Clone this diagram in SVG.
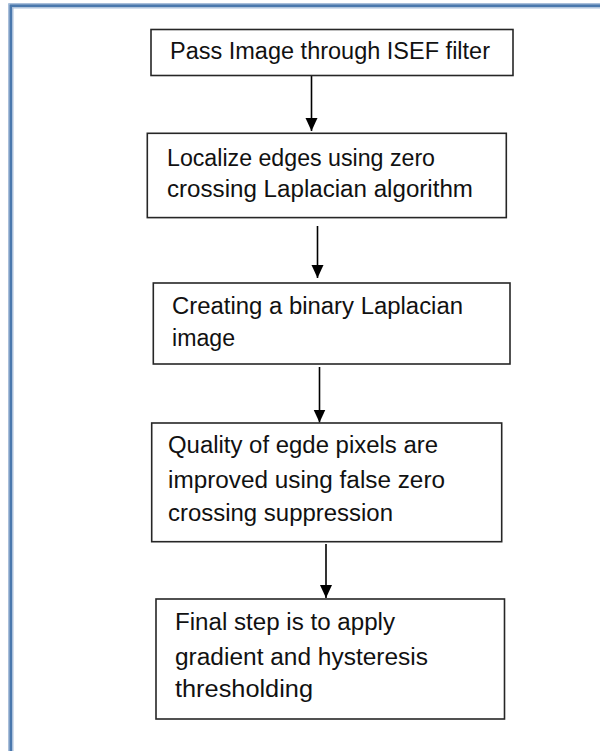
<svg xmlns="http://www.w3.org/2000/svg" width="600" height="751" viewBox="0 0 600 751">
  <style>
    .frame { fill: none; stroke: #4a78ad; stroke-width: 3; }
    .frame-edge { fill: none; stroke: #a9bfdb; stroke-width: 1; }
    .box { fill: #ffffff; stroke: #262626; stroke-width: 1.6; }
    .lbl { font-family: "Liberation Sans", Arial, sans-serif; font-size: 23px; fill: #111111; }
    .conn { fill: none; stroke: #000000; stroke-width: 1.6; }
  </style>
  <defs>
    <marker id="arrow" markerUnits="userSpaceOnUse" markerWidth="14" markerHeight="16" refX="13" refY="6" orient="auto">
      <path d="M0,0 L13,6 L0,12 Z" fill="#000000"/>
    </marker>
  </defs>
  <rect width="600" height="751" fill="#ffffff"/>
  <g id="frame">
    <path class="frame-edge" d="M8.5,751 V3.5 H600"/>
    <path class="frame-edge" d="M13,751 V8 H600"/>
    <path class="frame" d="M10.8,751 V5.8 H600"/>
  </g>
  <g id="connectors">
    <line class="conn" x1="311.5" y1="76" x2="311.5" y2="131" marker-end="url(#arrow)"/>
    <line class="conn" x1="317.5" y1="226" x2="317.5" y2="278" marker-end="url(#arrow)"/>
    <line class="conn" x1="319.5" y1="367" x2="319.5" y2="422.5" marker-end="url(#arrow)"/>
    <line class="conn" x1="326" y1="544" x2="326" y2="598" marker-end="url(#arrow)"/>
  </g>
  <g id="node1">
    <rect class="box" x="151" y="29.5" width="362" height="46"/>
    <text class="lbl" x="170" y="59" textLength="320" lengthAdjust="spacingAndGlyphs">Pass Image through ISEF filter</text>
  </g>
  <g id="node2">
    <rect class="box" x="147.3" y="133.3" width="359" height="84.3"/>
    <text class="lbl" x="167" y="166" textLength="268" lengthAdjust="spacingAndGlyphs">Localize edges using zero</text>
    <text class="lbl" x="167" y="197" textLength="306" lengthAdjust="spacingAndGlyphs">crossing Laplacian algorithm</text>
  </g>
  <g id="node3">
    <rect class="box" x="153.3" y="283" width="356.7" height="81"/>
    <text class="lbl" x="172" y="314" textLength="291" lengthAdjust="spacingAndGlyphs">Creating a binary Laplacian</text>
    <text class="lbl" x="172" y="346" textLength="63" lengthAdjust="spacingAndGlyphs">image</text>
  </g>
  <g id="node4">
    <rect class="box" x="151.7" y="423" width="350" height="118.7"/>
    <text class="lbl" x="168" y="453" textLength="270" lengthAdjust="spacingAndGlyphs">Quality of egde pixels are</text>
    <text class="lbl" x="168" y="488" textLength="277" lengthAdjust="spacingAndGlyphs">improved using false zero</text>
    <text class="lbl" x="168" y="521" textLength="225" lengthAdjust="spacingAndGlyphs">crossing suppression</text>
  </g>
  <g id="node5">
    <rect class="box" x="156" y="599" width="348.5" height="120"/>
    <text class="lbl" x="175" y="630" textLength="220" lengthAdjust="spacingAndGlyphs">Final step is to apply</text>
    <text class="lbl" x="175" y="665" textLength="253" lengthAdjust="spacingAndGlyphs">gradient and hysteresis</text>
    <text class="lbl" x="175" y="697" textLength="138" lengthAdjust="spacingAndGlyphs">thresholding</text>
  </g>
</svg>
